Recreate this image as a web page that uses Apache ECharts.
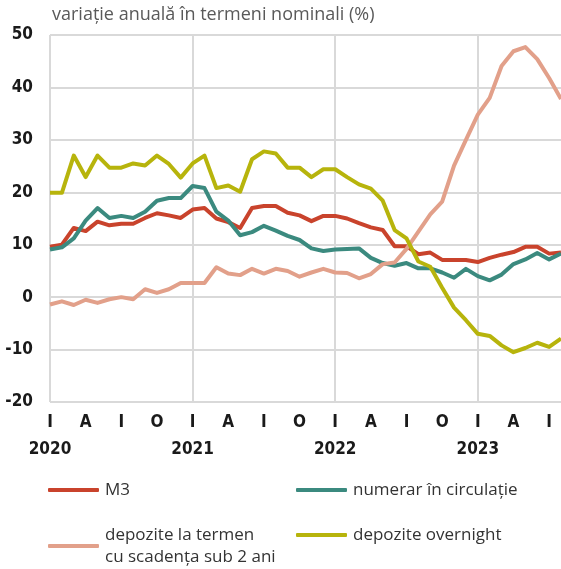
<!DOCTYPE html>
<html>
<head>
<meta charset="utf-8">
<script src="https://cdn.jsdelivr.net/npm/echarts@6/dist/echarts.min.js"></script>
<style>
  html, body { margin: 0; padding: 0; background: #ffffff; }
  #chart { width: 561px; height: 569px; }
</style>
</head>
<body>
<div id="chart"></div>
<script>
// Monthly observations, January 2020 – August 2023
const months = [
  '2020-01','2020-02','2020-03','2020-04','2020-05','2020-06','2020-07','2020-08','2020-09','2020-10','2020-11','2020-12',
  '2021-01','2021-02','2021-03','2021-04','2021-05','2021-06','2021-07','2021-08','2021-09','2021-10','2021-11','2021-12',
  '2022-01','2022-02','2022-03','2022-04','2022-05','2022-06','2022-07','2022-08','2022-09','2022-10','2022-11','2022-12',
  '2023-01','2023-02','2023-03','2023-04','2023-05','2023-06','2023-07','2023-08'
];

// Quarter-start month initials (Romanian: ianuarie, aprilie, iulie, octombrie)
const monthInitials = { '01': 'I', '04': 'A', '07': 'I', '10': 'O' };

// Y-axis ticks (%)
const yTicks = [-20, -10, 0, 10, 20, 30, 40, 50];

// Annual growth, % (nominal terms)
const m3 = [
  9.6, 10.0, 13.2, 12.6, 14.4, 13.7, 14.0, 14.0, 15.1, 16.0, 15.6, 15.1,
  16.7, 17.0, 15.0, 14.3, 13.2, 17.0, 17.4, 17.4, 16.1, 15.6, 14.5, 15.5,
  15.5, 15.0, 14.1, 13.3, 12.8, 9.7, 9.7, 8.2, 8.5, 7.1, 7.1, 7.1,
  6.7, 7.5, 8.1, 8.6, 9.6, 9.6, 8.3, 8.5
];
const numerar = [
  9.1, 9.5, 11.2, 14.6, 17.0, 15.1, 15.5, 15.1, 16.3, 18.4, 18.9, 18.9,
  21.2, 20.8, 16.3, 14.6, 11.8, 12.4, 13.6, 12.7, 11.7, 10.9, 9.3, 8.8,
  9.1, 9.2, 9.3, 7.5, 6.5, 6.0, 6.5, 5.5, 5.5, 4.7, 3.7, 5.4,
  4.0, 3.2, 4.3, 6.3, 7.2, 8.4, 7.2, 8.3
];
const depoziteTermen = [
  -1.4, -0.8, -1.5, -0.5, -1.1, -0.4, 0.0, -0.4, 1.5, 0.8, 1.5, 2.7,
  2.7, 2.7, 5.7, 4.5, 4.2, 5.4, 4.5, 5.4, 5.0, 3.9, 4.7, 5.4,
  4.7, 4.6, 3.6, 4.4, 6.3, 6.6, 9.2, 12.5, 15.8, 18.2, 25.1, 30.0,
  34.8, 38.0, 44.1, 46.9, 47.7, 45.4, 41.8, 37.8
];
const depoziteOvernight = [
  19.9, 19.9, 27.0, 22.9, 27.0, 24.7, 24.7, 25.5, 25.1, 27.0, 25.4, 22.8,
  25.5, 27.0, 20.8, 21.3, 20.1, 26.3, 27.8, 27.4, 24.7, 24.7, 22.9, 24.4,
  24.4, 22.9, 21.5, 20.7, 18.4, 12.8, 11.2, 6.8, 5.8, 1.8, -2.0, -4.4,
  -7.0, -7.4, -9.2, -10.5, -9.7, -8.7, -9.5, -7.9
];

const seriesNames = [
  'M3',
  'numerar în circulație',
  'depozite la termen\ncu scadența sub 2 ani',
  'depozite overnight'
];
const seriesColors = ['#c9432c', '#3b8a7f', '#e2a08a', '#b7b40c'];
const seriesData = [m3, numerar, depoziteTermen, depoziteOvernight];

const condensed = '"Liberation Sans Narrow", "DejaVu Sans Condensed", sans-serif';
const body = '"Open Sans", "Noto Sans", sans-serif';
const gridGray = '#d9d9d9';

const chart = echarts.init(document.getElementById('chart'), null, { renderer: 'canvas' });

// one legend block per entry so the 2x2 arrangement is fixed
const legendSlots = [
  { left: 48, top: 479 },
  { left: 296, top: 479 },
  { left: 48, top: 513 },
  { left: 296, top: 524 }
];
const legends = seriesNames.map((name, i) => ({
  data: [name],
  left: legendSlots[i].left,
  top: legendSlots[i].top,
  padding: 0,
  icon: 'roundRect',
  itemWidth: 51,
  itemHeight: 4,
  itemGap: 0,
  selectedMode: false,
  textStyle: {
    fontFamily: body,
    fontSize: 17,
    color: '#333333',
    lineHeight: 22,
    padding: i === 2 ? [22, 0, 0, 1] : [0, 0, 0, 1]
  }
}));

chart.setOption({
  animation: false,
  title: {
    text: 'variație anuală în termeni nominali (%)',
    left: 52,
    top: 6,
    padding: 0,
    textStyle: { fontFamily: body, fontSize: 18, fontWeight: 'normal', color: '#595959' }
  },
  legend: legends,
  grid: { left: 50, right: -3, top: 35, bottom: 167, containLabel: false },
  xAxis: {
    type: 'category',
    data: months,
    boundaryGap: false,
    axisLine: { show: true, lineStyle: { color: gridGray, width: 2 } },
    axisTick: { show: false },
    axisLabel: {
      interval: (idx) => idx % 3 === 0,
      margin: 7,
      fontFamily: condensed,
      fontSize: 17,
      fontWeight: 'bold',
      color: '#1a1a1a',
      lineHeight: 27,
      formatter: (v) => {
        const [yr, mo] = v.split('-');
        const letter = monthInitials[mo] || '';
        return mo === '01' ? letter + '\n' + yr : letter;
      }
    },
    splitLine: {
      show: true,
      interval: (idx) => idx % 12 === 0,
      lineStyle: { color: gridGray, width: 2 }
    }
  },
  yAxis: {
    type: 'value',
    min: yTicks[0],
    max: yTicks[yTicks.length - 1],
    interval: 10,
    axisLine: { show: false },
    axisTick: { show: false },
    axisLabel: {
      margin: 17,
      fontFamily: condensed,
      fontSize: 17,
      fontWeight: 'bold',
      color: '#1a1a1a'
    },
    splitLine: { show: true, lineStyle: { color: gridGray, width: 2 } }
  },
  series: seriesNames.map((name, i) => ({
    name,
    type: 'line',
    data: seriesData[i],
    symbol: 'none',
    color: seriesColors[i],
    lineStyle: { width: 4, color: seriesColors[i], join: 'round' },
    z: 2 + i
  }))
});
</script>
</body>
</html>
